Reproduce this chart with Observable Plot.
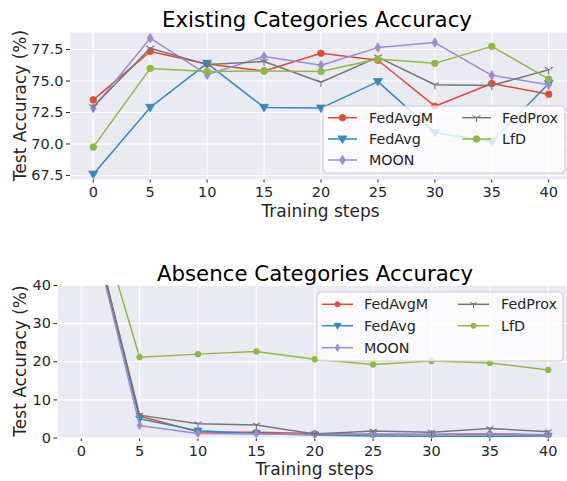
<!DOCTYPE html>
<html><head><meta charset="utf-8">
<script src="https://cdn.jsdelivr.net/npm/d3@7"></script>
<script src="https://cdn.jsdelivr.net/npm/@observablehq/plot@0.6"></script>
<style>
body{margin:0;background:#fff;font-family:"DejaVu Sans",sans-serif;}
#wrap{position:relative;width:567px;height:481px;overflow:hidden;background:#fff;}
#wrap > svg{position:absolute;left:0;}
</style></head><body><div id="wrap"></div>
<script>
const steps = [0,5,10,15,20,25,30,35,40];
const methods = ["FedAvgM","FedAvg","MOON","FedProx","LfD"];
const colors = ["#E24A33","#348ABD","#988ED5","#777777","#8EBA42"];

// Existing categories accuracy
const existFedAvgM = [73.5, 77.35, 76.35, 75.8, 77.2, 76.65, 73.0, 74.8, 73.95];
const existFedAvg  = [67.6, 72.9, 76.4, 72.9, 72.85, 74.95, 70.9, 70.2, 74.8];
const existMOON    = [72.85, 78.4, 75.5, 76.95, 76.25, 77.65, 78.05, 75.45, 74.7];
const existFedProx = [72.95, 77.6, 76.3, 76.55, 74.9, 76.9, 74.7, 74.65, 75.9];
const existLfD     = [69.75, 76.0, 75.75, 75.8, 75.75, 76.75, 76.4, 77.75, 75.15];

// Absence categories accuracy
const absFedAvgM = [67.5, 5.75, 1.6, 1.5, 1.2, 0.95, 0.9, 1.0, 0.7];
const absFedAvg  = [67.0, 5.05, 1.9, 1.2, 0.8, 0.55, 0.45, 0.45, 0.5];
const absMOON    = [66.5, 3.3, 1.2, 1.05, 0.9, 1.05, 1.0, 1.2, 0.85];
const absFedProx = [67.0, 6.0, 3.75, 3.4, 1.05, 1.85, 1.5, 2.5, 1.65];
const absLfD     = [72.6, 21.2, 22.0, 22.7, 20.65, 19.3, 20.2, 19.7, 17.85];

const topTicks = [67.5, 70, 72.5, 75, 77.5];
const bottomTicks = [0, 10, 20, 30, 40];
const titles = ["Existing Categories Accuracy", "Absence Categories Accuracy"];
const xLabel = "Training steps";
const yLabel = "Test Accuracy (%)";

// marker symbols (matplotlib o, v, d, 1, o)
const rad = s => Math.sqrt(s / Math.PI);
const triDown = {draw(c, s){const r = rad(s)*1.35; c.moveTo(-r, -r*0.7); c.lineTo(r, -r*0.7); c.lineTo(0, r*1.0); c.closePath();}};
const thinDiamond = {draw(c, s){const r = rad(s)*1.45; const w = r*0.6; c.moveTo(0,-r); c.lineTo(w,0); c.lineTo(0,r); c.lineTo(-w,0); c.closePath();}};
const tri1 = {draw(c, s){const r = rad(s)*1.4; c.moveTo(0,0); c.lineTo(0,r); c.moveTo(0,0); c.lineTo(-r*0.866,-r*0.5); c.moveTo(0,0); c.lineTo(r*0.866,-r*0.5);}};
const symbols = ["circle", triDown, thinDiamond, tri1, "circle"];

function rows(series) {
  return series.flatMap((vals, i) => steps.map((s, j) => ({method: methods[i], step: s, value: vals[j]})));
}

function chart(series, opts) {
  const data = rows(series);
  const marks = [
    Plot.frame({fill: "#EAEAF2", stroke: null}),
    Plot.ruleX(steps, {stroke: "#fff", strokeWidth: 1.1}),
    Plot.ruleY(opts.yticks, {stroke: "#fff", strokeWidth: 1.1})
  ];
  methods.forEach((m, i) => {
    const d = data.filter(r => r.method === m);
    marks.push(Plot.line(d, {x: "step", y: "value", stroke: colors[i], strokeWidth: 1.5, clip: true}));
    marks.push(Plot.dot(d, {x: "step", y: "value", symbol: symbols[i], r: opts.r,
      fill: i === 3 ? "none" : colors[i], stroke: colors[i], strokeWidth: i === 3 ? 1.1 : 0.8, clip: true}));
  });
  return Plot.plot({
    width: 567, height: opts.height,
    marginLeft: opts.left, marginRight: 0, marginTop: opts.top, marginBottom: opts.bottom,
    style: {background: "transparent", fontFamily: "DejaVu Sans", fontSize: "14.5px", color: "#262626", overflow: "hidden"},
    x: {domain: [-2, 41.65], ticks: steps, tickFormat: d => String(d), tickSize: 3.5, tickPadding: 4, label: null},
    y: {domain: opts.ydomain, ticks: opts.yticks, tickFormat: opts.yfmt, tickSize: 4, tickPadding: 3, label: null},
    marks
  });
}

const wrap = document.getElementById("wrap");
const c1 = chart([existFedAvgM, existFedAvg, existMOON, existFedProx, existLfD],
  {height: 230, left: 70, top: 32, bottom: 51, ydomain: [67.18, 78.85], yticks: topTicks, yfmt: d => d.toFixed(1), r: 3.3});
c1.style.top = "0px";
wrap.appendChild(c1);
const c2 = chart([absFedAvgM, absFedAvg, absMOON, absFedProx, absLfD],
  {height: 241, left: 57.4, top: 45, bottom: 43.5, ydomain: [0, 40], yticks: bottomTicks, yfmt: d => String(d), r: 2.9});
c2.style.top = "240px";
wrap.appendChild(c2);

// overlay: titles, axis labels, legends
const ov = d3.select(wrap).append("svg").attr("width", 567).attr("height", 481)
  .style("top", "0px").style("font-family", "DejaVu Sans");
ov.append("text").attr("x", 317).attr("y", 26.5).attr("text-anchor", "middle").attr("font-size", 21.3).text(titles[0]);
ov.append("text").attr("x", 315).attr("y", 281).attr("text-anchor", "middle").attr("font-size", 21.3).text(titles[1]);
ov.append("text").attr("x", 320.5).attr("y", 216.5).attr("text-anchor", "middle").attr("font-size", 17).attr("fill", "#262626").text(xLabel);
ov.append("text").attr("x", 314.5).attr("y", 475).attr("text-anchor", "middle").attr("font-size", 17).attr("fill", "#262626").text(xLabel);
[[105.5], [361]].forEach(([cy]) => {
  ov.append("text").attr("transform", `translate(26,${cy}) rotate(-90)`).attr("text-anchor", "middle")
    .attr("font-size", 17).attr("fill", "#262626").text(yLabel);
});

function legend(box, rowsY, col1, col2, r) {
  const g = ov.append("g");
  g.append("rect").attr("x", box[0]).attr("y", box[1]).attr("width", box[2]-box[0]).attr("height", box[3]-box[1])
    .attr("rx", 4).attr("fill", "#fff").attr("fill-opacity", 0.8).attr("stroke", "#cccccc").attr("stroke-width", 1);
  methods.forEach((m, i) => {
    const col = i < 3 ? col1 : col2;
    const y = rowsY[i < 3 ? i : i - 3];
    g.append("line").attr("x1", col[0]).attr("x2", col[1]).attr("y1", y).attr("y2", y)
      .attr("stroke", colors[i]).attr("stroke-width", 1.5);
    const sym = typeof symbols[i] === "string" ? d3.symbolCircle : symbols[i];
    g.append("path").attr("transform", `translate(${(col[0]+col[1])/2},${y})`)
      .attr("d", d3.symbol(sym, r*r*Math.PI)())
      .attr("fill", i === 3 ? "none" : colors[i]).attr("stroke", colors[i]).attr("stroke-width", i === 3 ? 1.1 : 0.8);
    g.append("text").attr("x", col[2]).attr("y", y).attr("dy", "0.36em").attr("font-size", 14.3)
      .attr("fill", "#262626").text(m);
  });
}
legend([323, 106, 565, 173], [117.7, 139, 160], [328, 357, 369], [462, 491, 502], 3.3);
legend([317, 292, 563, 361], [304.3, 325.7, 347.7], [322, 353, 364], [458, 489, 501], 2.6);
</script></body></html>
